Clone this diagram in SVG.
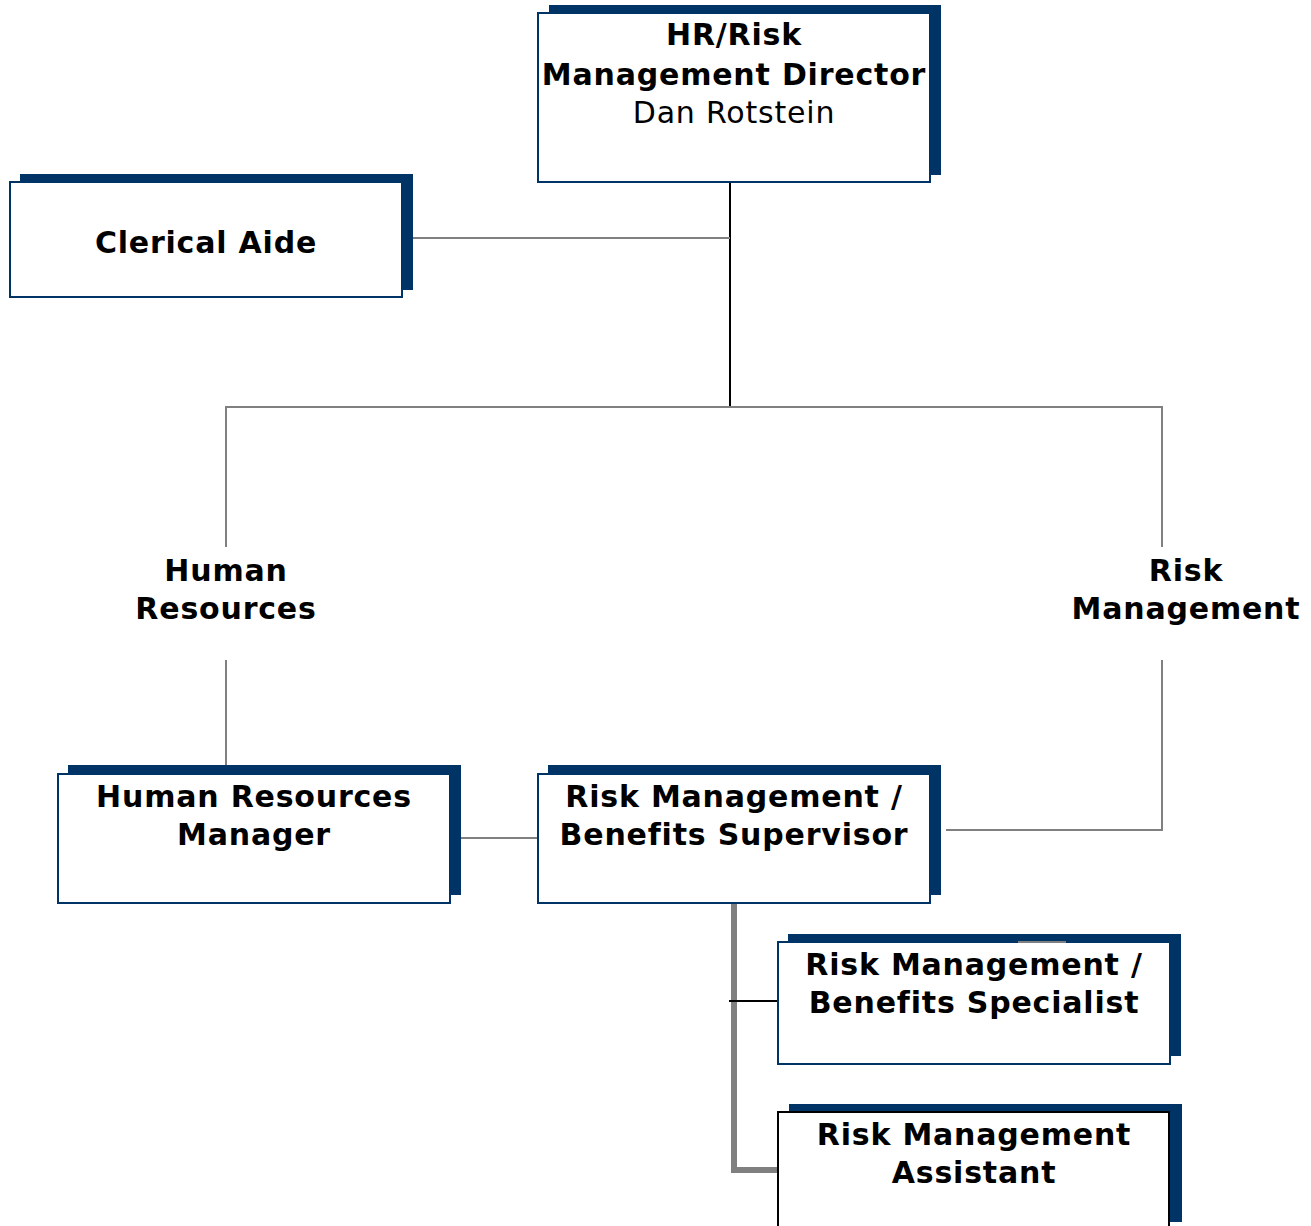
<svg xmlns="http://www.w3.org/2000/svg" width="1311" height="1226" viewBox="0 0 1311 1226">
<style>
.shadow{fill:#003366}
.box{fill:#fff;stroke:#003366;stroke-width:2}
.boxk{fill:#fff;stroke:#000;stroke-width:2}
text{font-family:"DejaVu Sans","Verdana",sans-serif;font-size:30px;letter-spacing:0.8px;fill:#000;text-anchor:middle}
.b{font-weight:bold}
.g{stroke:#808080;stroke-width:2;fill:none}
.k{stroke:#000;stroke-width:2;fill:none}
</style>
<rect width="1311" height="1226" fill="#fff"/>
<g id="connectors">
<line class="k" x1="730" y1="182" x2="730" y2="407"/>
<line class="g" x1="413" y1="238" x2="730" y2="238"/>
<polyline class="g" points="226,547 226,407 1162,407 1162,547"/>
<line class="g" x1="226" y1="660" x2="226" y2="773"/>
<polyline class="g" points="1162,660 1162,830 946,830"/>
<line class="g" x1="461" y1="838" x2="537" y2="838"/>
<polyline points="734,903 734,1170 777,1170" fill="none" stroke="#808080" stroke-width="6"/>
<line class="k" x1="729" y1="1001" x2="777" y2="1001"/>
</g>
<g id="director">
<rect class="shadow" x="549" y="5" width="392" height="170"/>
<rect class="box" x="538" y="13" width="392" height="169"/>
<text class="b" x="734" y="45">HR/Risk</text>
<text class="b" x="734" y="85">Management Director</text>
<text x="734" y="123">Dan Rotstein</text>
</g>
<g id="clerical-aide">
<rect class="shadow" x="20" y="174" width="393" height="116"/>
<rect class="box" x="10" y="182" width="392" height="115"/>
<text class="b" x="206" y="253">Clerical Aide</text>
</g>
<g id="label-hr">
<text class="b" x="226" y="581">Human</text>
<text class="b" x="226" y="619">Resources</text>
</g>
<g id="label-rm">
<text class="b" x="1186" y="581">Risk</text>
<text class="b" x="1186" y="619">Management</text>
</g>
<g id="hr-manager">
<rect class="shadow" x="68" y="765" width="393" height="130"/>
<rect class="box" x="58" y="774" width="392" height="129"/>
<text class="b" x="254" y="807">Human Resources</text>
<text class="b" x="254" y="845">Manager</text>
</g>
<g id="rm-supervisor">
<rect class="shadow" x="548" y="765" width="393" height="130"/>
<rect class="box" x="538" y="774" width="392" height="129"/>
<text class="b" x="734" y="807">Risk Management /</text>
<text class="b" x="734" y="845">Benefits Supervisor</text>
</g>
<g id="rm-specialist">
<rect class="shadow" x="788" y="934" width="393" height="122"/>
<rect class="box" x="778" y="942" width="392" height="122"/>
<line class="g" x1="1018" y1="942" x2="1066" y2="942"/>
<text class="b" x="974" y="975">Risk Management /</text>
<text class="b" x="974" y="1013">Benefits Specialist</text>
</g>
<g id="rm-assistant">
<rect class="shadow" x="789" y="1104" width="393" height="118"/>
<rect class="boxk" x="778" y="1112" width="391" height="130"/>
<text class="b" x="974" y="1145">Risk Management</text>
<text class="b" x="974" y="1183">Assistant</text>
</g>
</svg>
